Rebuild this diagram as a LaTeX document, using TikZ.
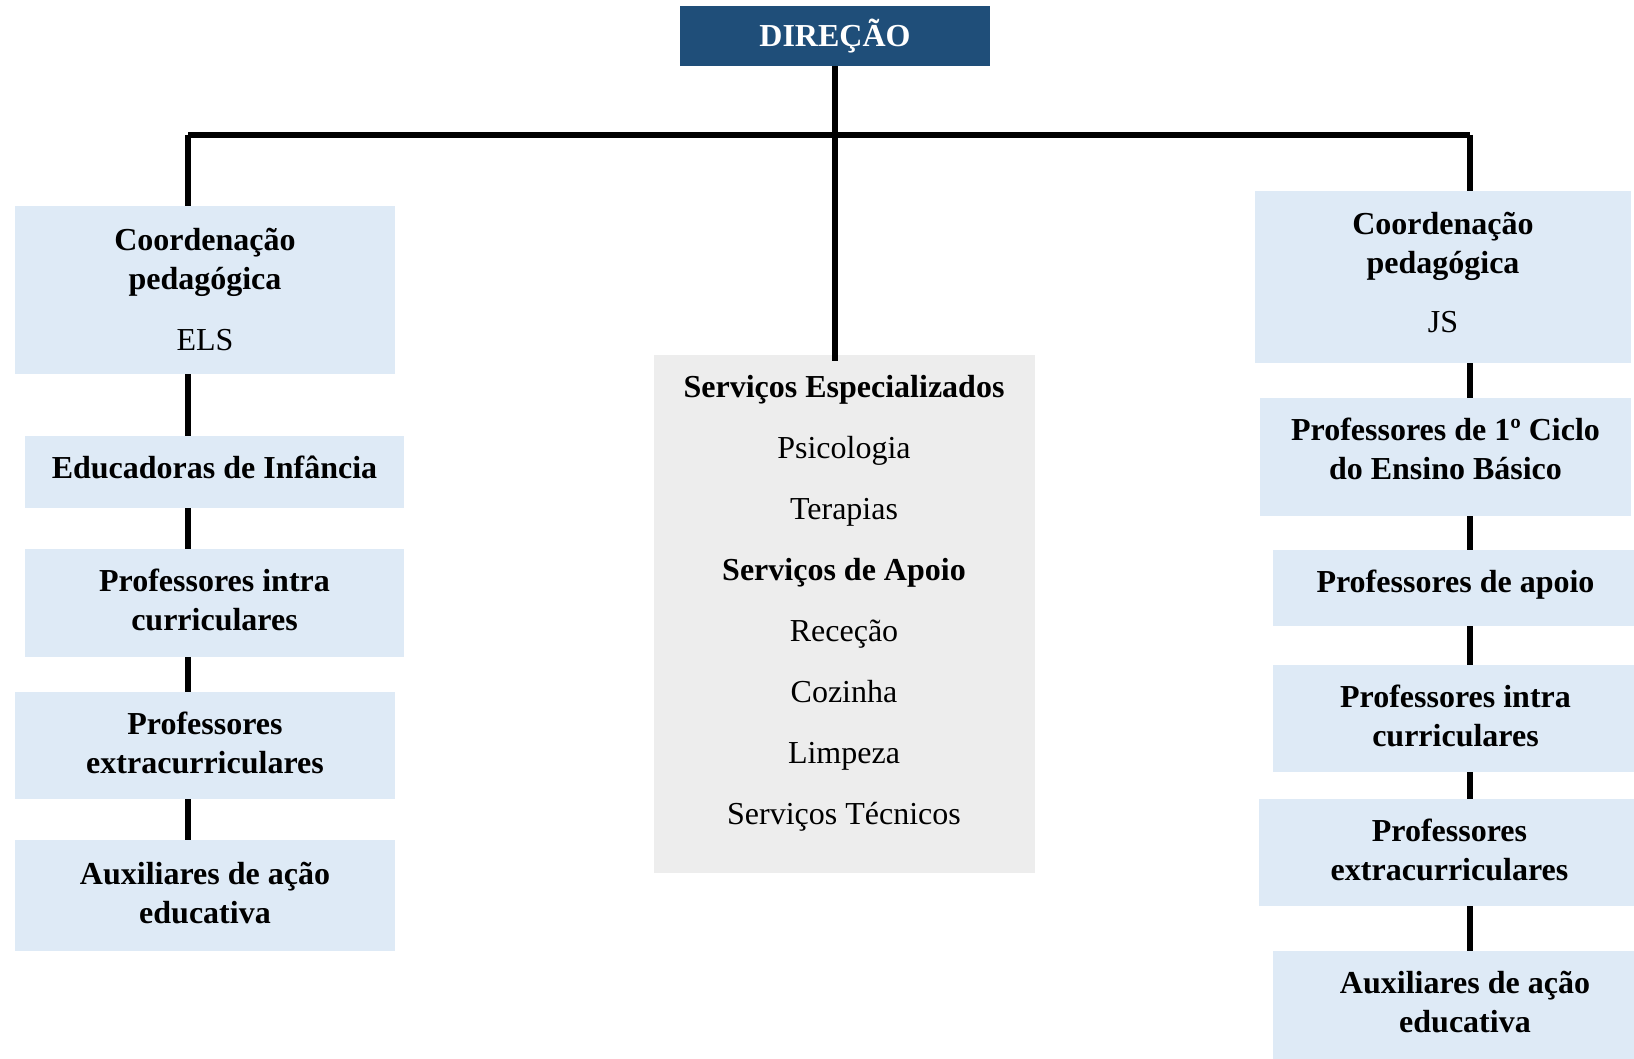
\documentclass[tikz,border=0pt]{standalone}
\usepackage{fontspec}
\setmainfont{Liberation Serif}
\usetikzlibrary{positioning,calc}
\definecolor{azuldir}{HTML}{1F4E79}
\definecolor{azulclaro}{HTML}{DEEAF6}
\definecolor{cinza}{HTML}{EDEDED}

\begin{document}
\begin{tikzpicture}[
						x=0.5pt, y=-0.5pt,
						% Caixa da direção
						topo/.style={
							fill=azuldir, text=white, inner sep=0pt,
							font=\fontsize{16}{19.5}\selectfont\bfseries
						},
						% Caixas azuis claras (o valor sobe um pouco o texto)
						cargo/.style={
							fill=azulclaro, inner sep=0pt, align=center,
							font=\fontsize{16}{19.5}\selectfont\bfseries,
							execute at end node={\rule[-#1]{0pt}{0pt}}
						},
						cargo/.default=3.1pt,
						% Caixa cinzenta dos serviços
						servicos/.style={
							fill=cinza, inner sep=0pt
						},
						% Linhas de ligação
						liga/.style={
							line width=2.9pt, black
						}
						]
						\useasboundingbox (0,0) rectangle (1634,1059);
						
						% --- DIREÇÃO ---
						\node[topo, minimum width=155pt, minimum height=30pt] (dir) at (835,36) {DIREÇÃO};
						
						% --- Coluna da esquerda (ELS) ---
						\node[cargo=1pt, minimum width=190pt, minimum height=84pt] (cels) at (205,290)
							{Coordenação\\pedagógica\\[11pt]\mdseries ELS};
						\node[cargo=5.2pt, minimum width=189.5pt, minimum height=36pt] (educ) at (214.5,472) {Educadoras de Infância};
						\node[cargo, minimum width=189.5pt, minimum height=54pt] (pintraL) at (214.5,603) {Professores intra\\curriculares};
						\node[cargo, minimum width=190pt, minimum height=53.5pt] (pextraL) at (205,745.5) {Professores\\extracurriculares};
						\node[cargo, minimum width=190pt, minimum height=55.5pt] (auxL) at (205,895.5) {Auxiliares de ação\\educativa};
						
						% --- Serviços (centro) ---
						\node[servicos, minimum width=190.5pt, minimum height=259pt] (serv) at (844.5,614) {};
						\node[align=center, font=\fontsize{16}{30.5}\selectfont] (servtxt) at (844,603)
							{\textbf{Serviços Especializados}\\Psicologia\\Terapias\\\textbf{Serviços de Apoio}\\Receção\\Cozinha\\Limpeza\\Serviços Técnicos};
						
						% --- Coluna da direita (JS) ---
						\node[cargo=4.2pt, minimum width=188pt, minimum height=86pt] (cjs) at (1443,277)
							{Coordenação\\pedagógica\\[10pt]\mdseries JS};
						\node[cargo=8.3pt, minimum width=185.5pt, minimum height=59pt] (p1c) at (1445.5,457) {Professores de 1º Ciclo\\do Ensino Básico};
						\node[cargo=6.6pt, minimum width=180.5pt, minimum height=38pt] (papoio) at (1453.5,588) {\hspace*{2pt}Professores de apoio};
						\node[cargo, minimum width=180.5pt, minimum height=53.5pt] (pintraR) at (1453.5,718.5) {\hspace*{2pt}Professores intra\\\hspace*{2pt}curriculares};
						\node[cargo, minimum width=187.5pt, minimum height=53.5pt] (pextraR) at (1446.5,852.5) {\hspace*{3pt}Professores\\\hspace*{3pt}extracurriculares};
						\node[cargo, minimum width=180.5pt, minimum height=54pt] (auxR) at (1453.5,1005) {\hspace*{11.5pt}Auxiliares de ação\\\hspace*{11.5pt}educativa};
						
						% --- Ligações ---
						\coordinate (lbus) at (188,135);
						\coordinate (rbus) at (1470,135);
						\draw[liga] (lbus) -- (rbus);
						\draw[liga] (dir.south) -- ([yshift=-3pt]dir.south |- serv.north);
						\draw[liga] (lbus) -- (lbus |- cels.north);
						\draw[liga] (rbus) -- (rbus |- cjs.north);
						
						% cadeia da esquerda
						\foreach \a/\b in {cels/educ, educ/pintraL, pintraL/pextraL, pextraL/auxL} {
							\draw[liga] (\a.south -| lbus) -- (\b.north -| lbus);
						}
						% cadeia da direita
						\foreach \a/\b in {cjs/p1c, p1c/papoio, papoio/pintraR, pintraR/pextraR, pextraR/auxR} {
							\draw[liga] (\a.south -| rbus) -- (\b.north -| rbus);
						}
						
					\end{tikzpicture}
\end{document}
